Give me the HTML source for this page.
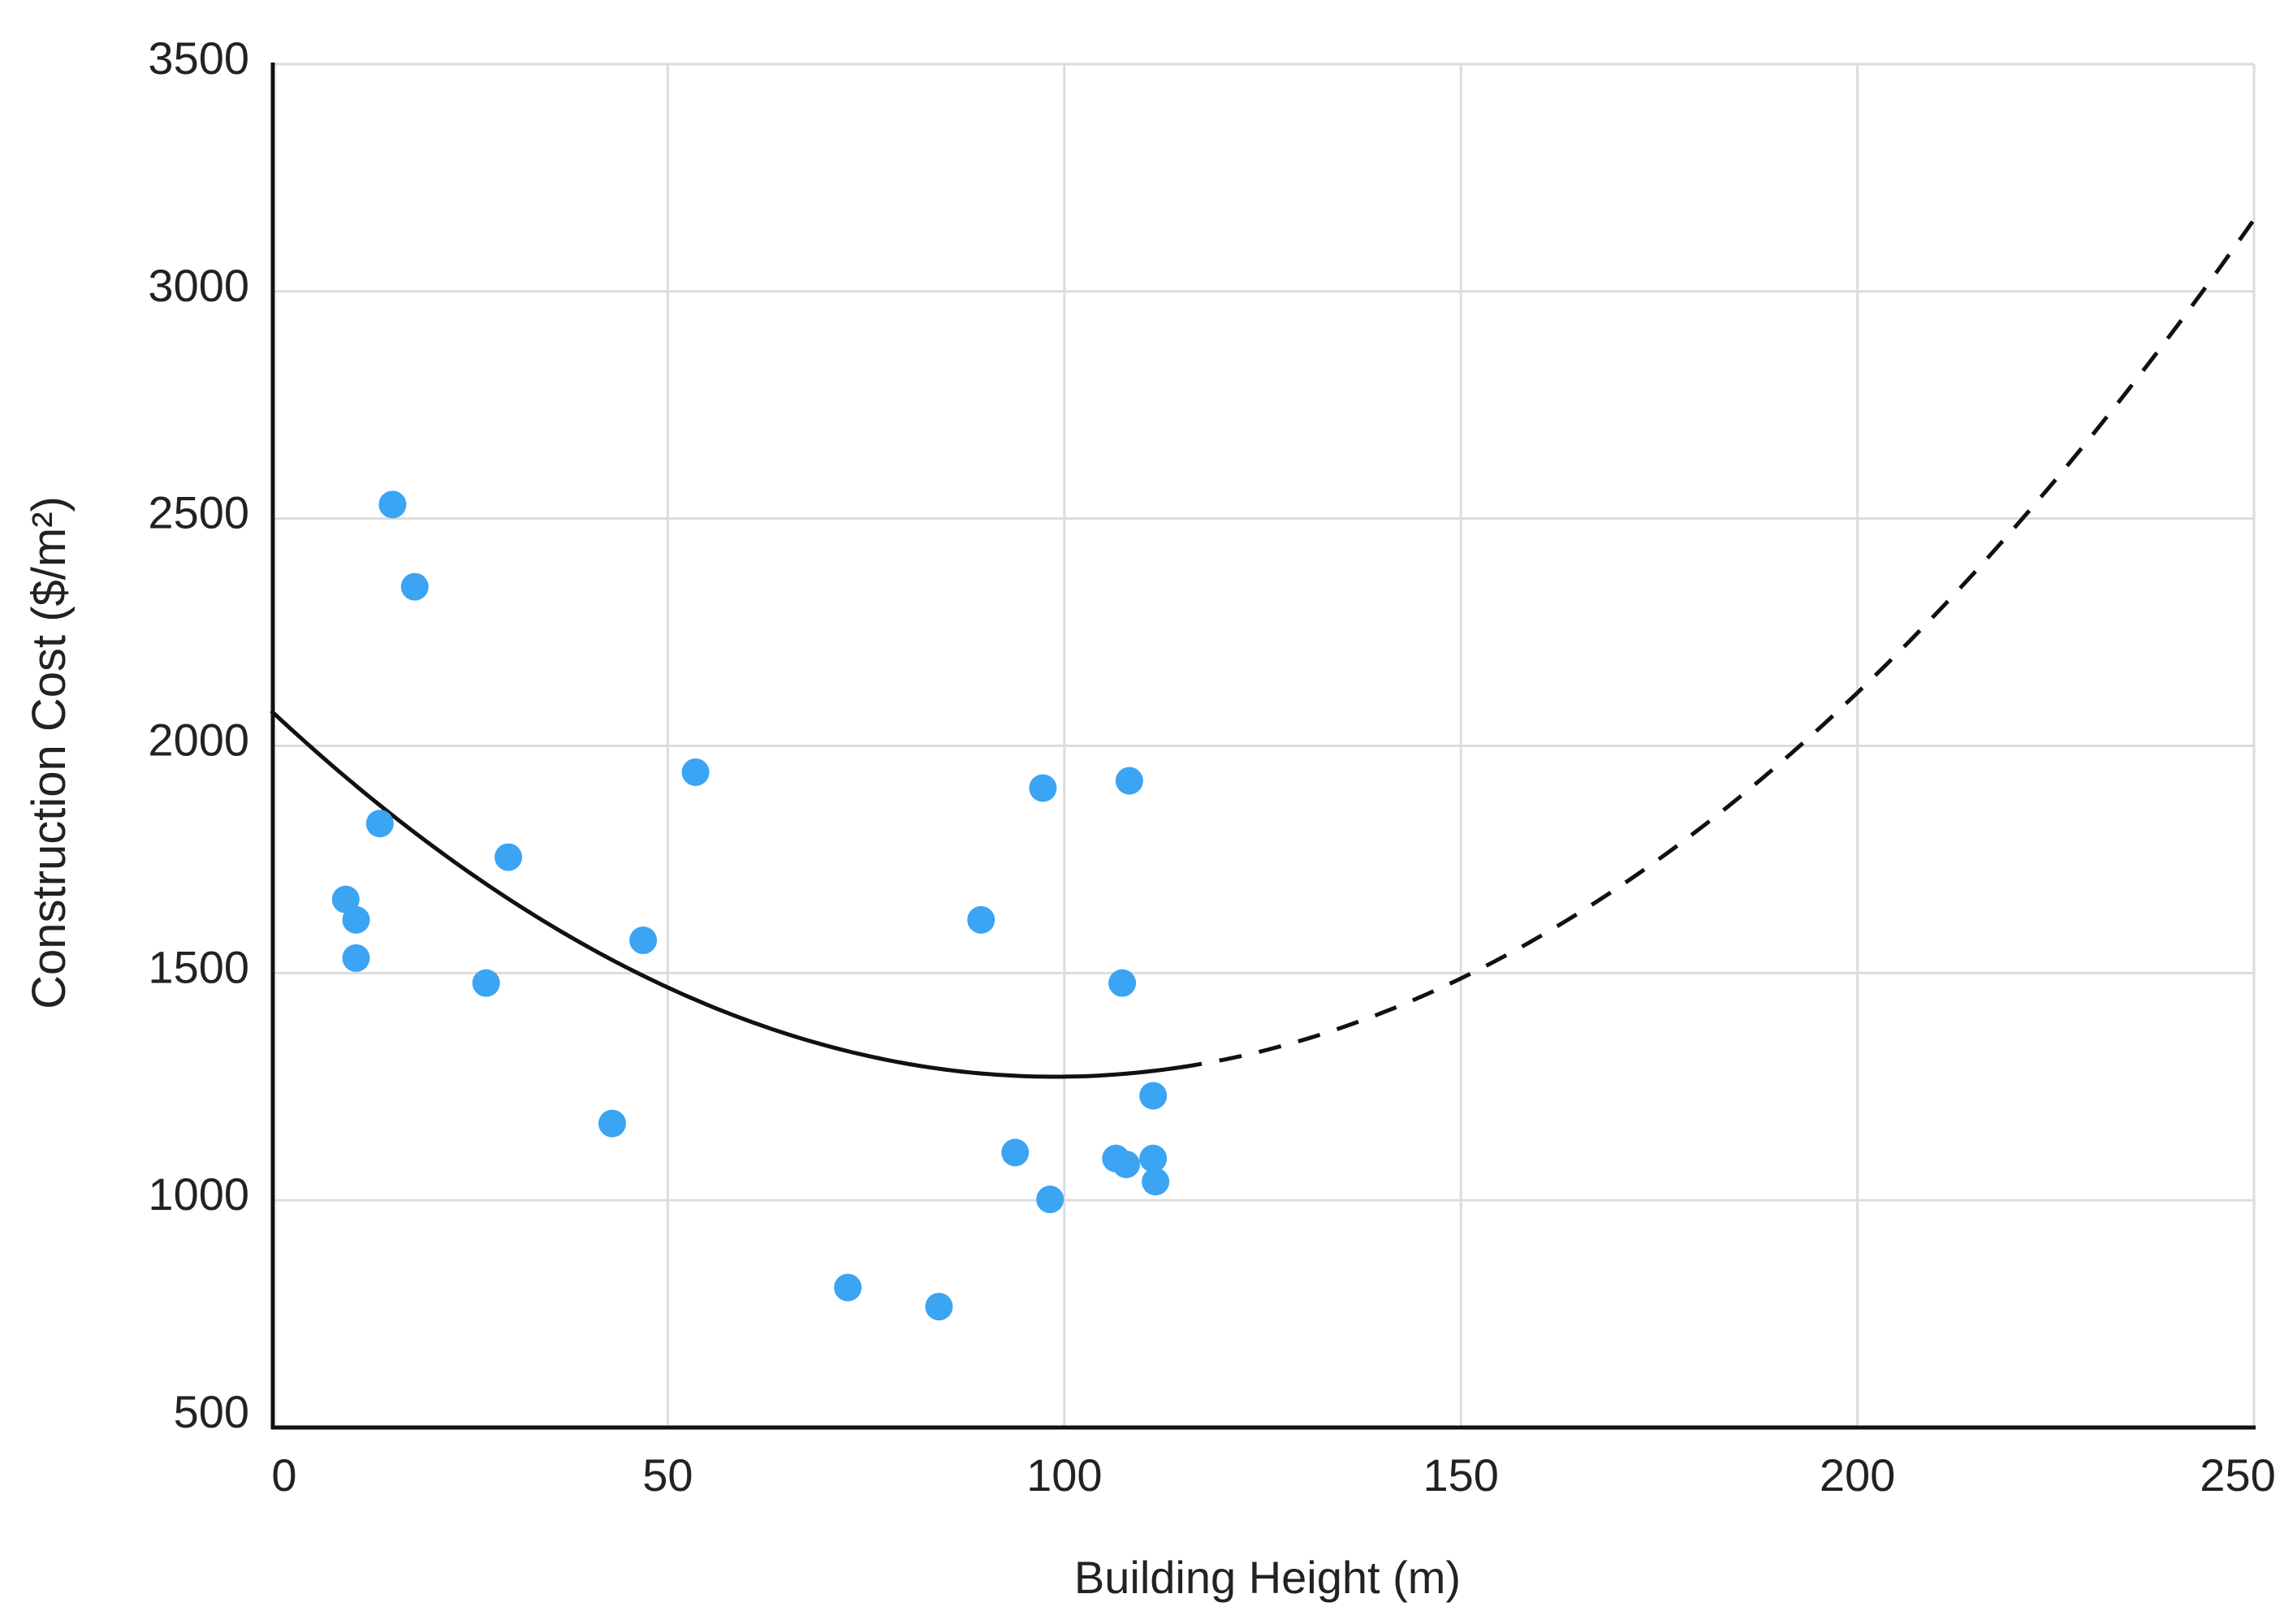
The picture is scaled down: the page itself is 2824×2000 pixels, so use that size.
<!DOCTYPE html>
<html><head><meta charset="utf-8"><style>
html,body{margin:0;padding:0;background:#fff;}
svg text{font-family:"Liberation Sans",sans-serif;fill:#222;}
</style></head><body>
<svg id="chart" width="2824" height="1995" viewBox="0 0 2824 1995" xmlns="http://www.w3.org/2000/svg">
<g id="grid"></g>
<g id="ticks"></g>
<g id="curve"></g>
<g id="points"></g>
<line x1="336" y1="77" x2="336" y2="1760" stroke="#111" stroke-width="5"/>
<line x1="334" y1="1758" x2="2778" y2="1758" stroke="#111" stroke-width="5"/>
<text x="1561" y="1962" font-size="56" text-anchor="middle">Building Height (m)</text>
<text transform="translate(80,927) rotate(-90)" font-size="58" text-anchor="middle">Construction Cost ($/m²)</text>
</svg>
<script>
const xTicks = [0, 50, 100, 150, 200, 250];
const yTicks = [500, 1000, 1500, 2000, 2500, 3000, 3500];
const heights = [15.3, 18.1, 13.7, 9.4, 10.7, 10.7, 27.1, 29.9, 46.9, 53.5, 43.0, 72.7, 84.2, 89.5, 93.8, 97.3, 98.2, 107.3, 108.2, 106.5, 107.8, 111.2, 111.2, 111.5];
const costs = [2531, 2350, 1829, 1662, 1617, 1533, 1478, 1755, 1572, 1942, 1169, 808, 766, 1617, 1105, 1907, 1002, 1478, 1923, 1092, 1079, 1230, 1092, 1041];
const fitCoefs = [2077, -16.3, 0.0825]; // cost = a + b*h + c*h^2
const fitSolidEnd = [114.5];
const fitRange = [0, 250];

const X0=334, X1=2776, Y0=1758, Y1=79;
const sx = v => X0 + (v-0)/(250-0)*(X1-X0);
const sy = v => Y0 - (v-500)/(3500-500)*(Y0-Y1);
const NS='http://www.w3.org/2000/svg';
function mk(tag, attrs, parent){const e=document.createElementNS(NS,tag);for(const k in attrs)e.setAttribute(k,attrs[k]);parent.appendChild(e);return e;}
const grid=document.getElementById('grid'), ticks=document.getElementById('ticks');
xTicks.forEach(t=>{
  if(t>0){const l=mk('line',{x1:sx(t),x2:sx(t),y1:Y1,y2:Y0,stroke:'#dcdcdc','stroke-width':3},grid);
  
  }
  const tx=mk('text',{x:t===0?sx(t)+16:(t===250?sx(t)-20:sx(t)),y:1836,'font-size':56,'text-anchor':'middle'},ticks);
  tx.textContent=t;
  
  
});
yTicks.forEach(t=>{
  if(t>500){const l=mk('line',{x1:X0,x2:X1,y1:sy(t),y2:sy(t),stroke:'#dcdcdc','stroke-width':3},grid);
  
  }
  const tx=mk('text',{x:307,y:sy(t)+(t===500?0:12),'font-size':56,'text-anchor':'end'},ticks);
  tx.textContent=t;
  
  
});
const f=h=>fitCoefs[0]+fitCoefs[1]*h+fitCoefs[2]*h*h;
function path(a,b){let d='';for(let i=0;i<=100;i++){const h=a+(b-a)*i/100;d+=(i?'L':'M')+sx(h).toFixed(1)+','+sy(f(h)).toFixed(1);}return d;}
const cg=document.getElementById('curve');
const p1=mk('path',{d:path(fitRange[0],fitSolidEnd[0]),fill:'none',stroke:'#111','stroke-width':5},cg);


const p2=mk('path',{d:path(fitSolidEnd[0],fitRange[1]),fill:'none',stroke:'#111','stroke-width':5,'stroke-dasharray':'28 22'},cg);


const pg=document.getElementById('points');
heights.forEach((h,i)=>{
  const c=mk('circle',{cx:sx(h),cy:sy(costs[i]),r:17,fill:'#3ba4f3'},pg);
  
  
});
</script>
</body></html>
